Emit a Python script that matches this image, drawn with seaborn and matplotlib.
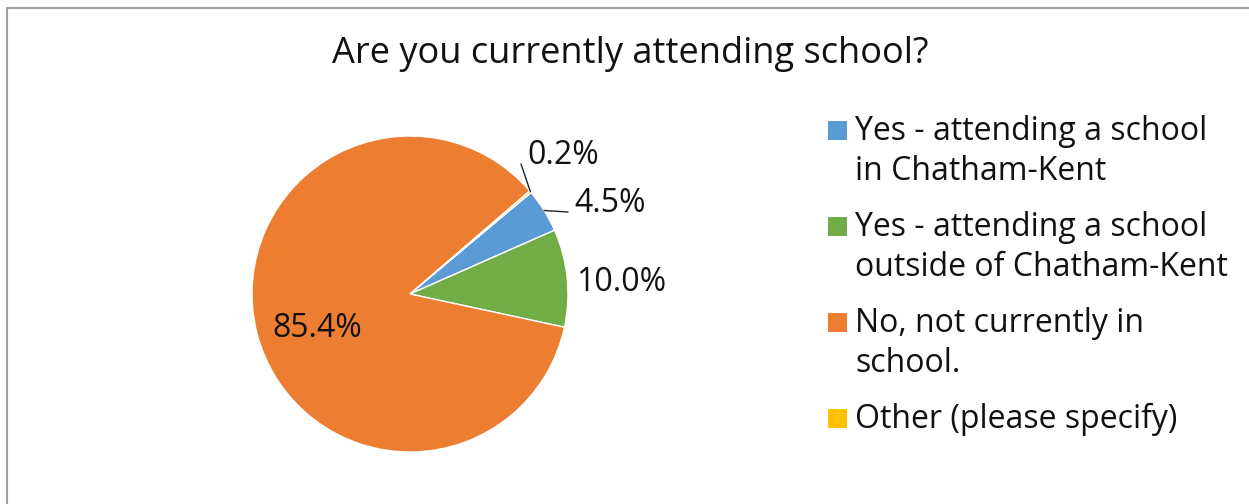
import matplotlib
matplotlib.use("Agg")
import matplotlib.pyplot as plt
import seaborn as sns
import numpy as np
from matplotlib.patches import Rectangle

# ---- data ----
title = "Are you currently attending school?"
categories = ["Yes - attending a school\nin Chatham-Kent",
              "Yes - attending a school\noutside of Chatham-Kent",
              "No, not currently in\nschool.",
              "Other (please specify)"]
values = [4.5, 10.0, 85.4, 0.2]
pct_labels = ["4.5%", "10.0%", "85.4%", "0.2%"]
colors = ["#5B9BD5", "#70AD47", "#ED7D31", "#FFC000"]

sns.set_theme(style="white")
plt.rcParams['font.family'] = ['Open Sans', 'DejaVu Sans']

W, H = 1249, 504
fig = plt.figure(figsize=(W / 100, H / 100), dpi=100)
fig.patch.set_facecolor("white")
ax = fig.add_axes([0, 0, 1, 1])


def Y(y):
    return H - y


cx, cy, r = 410, 294, 158
wedges, _ = ax.pie(values, colors=colors, startangle=40, counterclock=False,
                   center=(cx, Y(cy)), radius=r, frame=True,
                   wedgeprops=dict(edgecolor="white", linewidth=1.0))
ax.set_xlim(0, W)
ax.set_ylim(0, H)
ax.set_aspect("equal", adjustable="datalim")
ax.axis("off")

# data labels (layout positions)
label_pos = {0: (574, 212, "left"), 1: (576, 291, "left"),
             2: (317, 337, "center"), 3: (527, 164, "left")}
for i, txt in enumerate(pct_labels):
    x, y, ha = label_pos[i]
    ax.text(x, Y(y), txt, ha=ha, va="baseline", fontsize=23, color="#111111")


def arc_point(w):
    mid = np.deg2rad((w.theta1 + w.theta2) / 2)
    return cx + r * np.cos(mid), Y(cy) + r * np.sin(mid)


# leader lines
x0, y0 = arc_point(wedges[3])
ax.plot([x0, 521], [y0, Y(164)], color="#222222", lw=1.0)
x0, y0 = arc_point(wedges[0])
ax.plot([x0, 552, 568], [y0, Y(211), Y(212)], color="#222222", lw=1.0)

# title
ax.text(630, Y(63), title, ha="center", va="baseline", fontsize=26, color="#111111")

# legend (manual, markers aligned to first line)
base = 140
for lab, col in zip(categories, colors):
    lines = lab.split("\n")
    ax.add_patch(Rectangle((828, Y(base)), 19, 19, facecolor=col, edgecolor="none"))
    for k, ln in enumerate(lines):
        ax.text(855, Y(base + 40 * k), ln, ha="left", va="baseline",
                fontsize=23, color="#111111")
    base += 40 * len(lines) + 16

# chart border (top and left visible)
ax.plot([7.5, 7.5], [Y(520), Y(8)], color="#A0A0A0", lw=1.5, clip_on=False)
ax.plot([7.5, W + 10], [Y(8), Y(8)], color="#A0A0A0", lw=1.5, clip_on=False)

fig.savefig("out.png", dpi=100, facecolor="white")
